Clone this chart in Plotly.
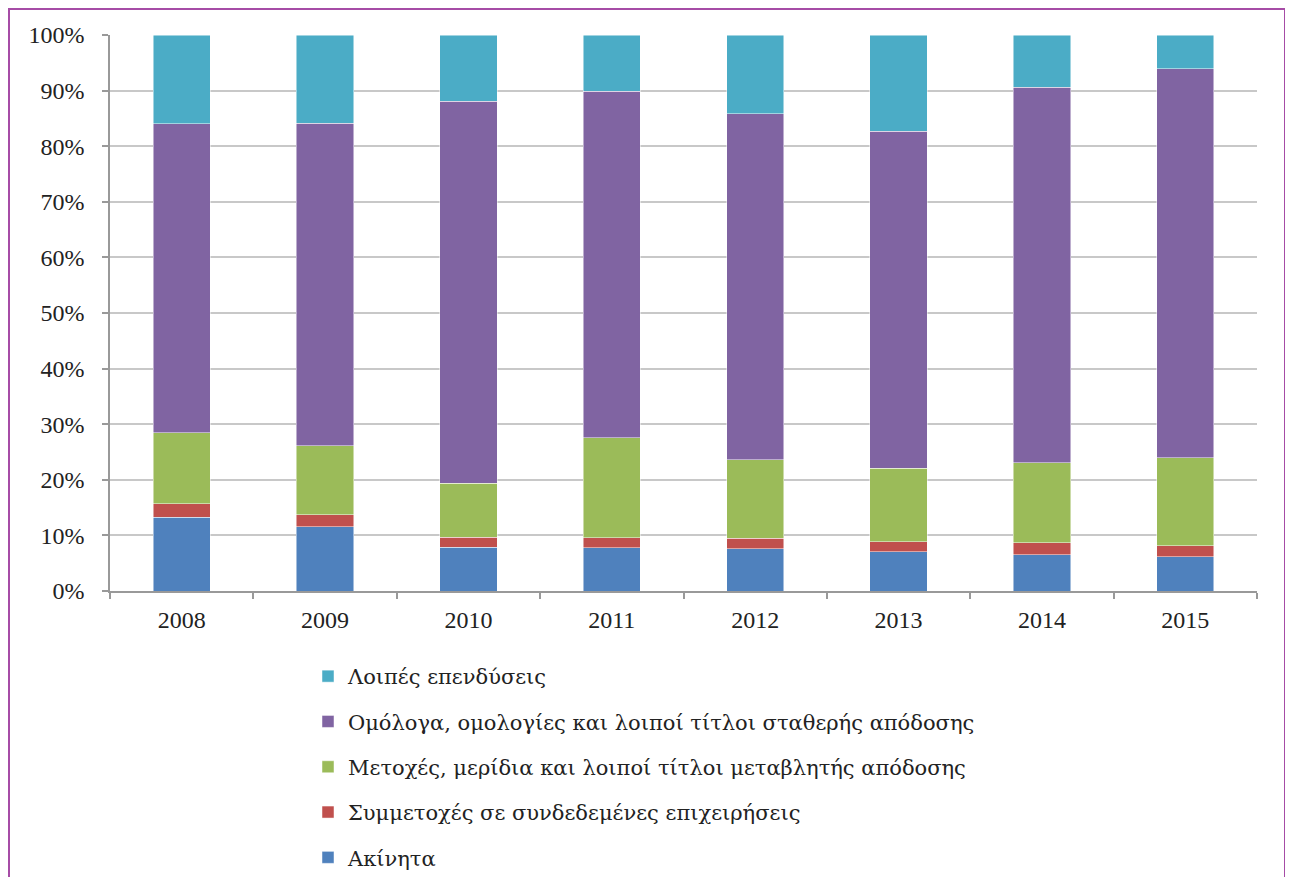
import plotly.graph_objects as go

years = ["2008", "2009", "2010", "2011", "2012", "2013", "2014", "2015"]
akinita = [13.25, 11.6, 7.9, 7.8, 7.6, 7.1, 6.5, 6.2]
symmetoxes = [2.4, 2.1, 1.8, 1.8, 1.9, 1.8, 2.2, 1.9]
metoxes = [12.85, 12.4, 9.7, 18.0, 14.1, 13.2, 14.4, 15.9]
omologa = [55.5, 58.0, 68.7, 62.3, 62.2, 60.6, 67.5, 69.9]
loipes = [16.0, 15.9, 11.9, 10.1, 14.2, 17.3, 9.4, 6.1]

series = [
    ("Ακίνητα", akinita, "#4F81BD"),
    ("Συμμετοχές σε συνδεδεμένες επιχειρήσεις", symmetoxes, "#C0504D"),
    ("Μετοχές, μερίδια και λοιποί τίτλοι μεταβλητής απόδοσης", metoxes, "#9BBB59"),
    ("Ομόλογα, ομολογίες και λοιποί τίτλοι σταθερής απόδοσης", omologa, "#8064A2"),
    ("Λοιπές επενδύσεις", loipes, "#4BACC6"),
]

fig = go.Figure()
n = len(series)
for i, (name, vals, col) in enumerate(series):
    fig.add_trace(go.Bar(
        x=years, y=vals, name=name, legendgroup=f"g{n - i}", legendrank=(n - i) * 10,
        marker=dict(color=col, line=dict(color="rgba(255,255,255,0.6)", width=0.8)),
    ))

OFF = 8  # page body margin
W, H = 1293 - OFF - 8, 885 - OFF - 8
L, T = 110 - OFF, 35 - OFF
pw, ph = 1147, 556
R = W - L - pw
B = H - T - ph
FONT = "Liberation Serif, Times New Roman, DejaVu Serif, serif"
GFONT = "DejaVu Serif, serif"

fig.update_layout(
    width=W, height=H,
    barmode="stack", bargap=0.6,
    plot_bgcolor="white", paper_bgcolor="white",
    margin=dict(l=L, r=R, t=T, b=B, autoexpand=False),
    font=dict(family=FONT, size=22, color="#222"),
    legend=dict(
        traceorder="grouped", orientation="v",
        x=(308 - 110) / pw, xanchor="left",
        y=(591 - 656) / ph, yanchor="top",
        tracegroupgap=15, font=dict(family=GFONT, size=21, color="#222"),
        itemwidth=30,
    ),
    showlegend=True,
)
fig.update_yaxes(
    range=[0, 100], tickvals=[0, 10, 20, 30, 40, 50, 60, 70, 80, 90, 100],
    ticktext=[f"{v}%" for v in range(0, 101, 10)],
    showgrid=True, gridcolor="#c8c8c8", gridwidth=1.5,
    showline=True, linecolor="#999", linewidth=1.5,
    ticks="outside", ticklen=6, tickcolor="#999", tickwidth=1.5,
    tickfont=dict(family=FONT, size=24), ticklabelstandoff=13, zeroline=False,
)
fig.update_xaxes(
    showline=True, linecolor="#999", linewidth=1.5,
    ticks="outside", ticklen=6, tickcolor="#999", tickwidth=1.5,
    tickson="boundaries", tickfont=dict(family=FONT, size=24), ticklabelstandoff=6,
)
fig.add_shape(
    type="rect", xref="paper", yref="paper",
    x0=(1 - L) / pw, x1=(1285 - OFF - L) / pw,
    y0=(T + ph - (H + 10)) / ph, y1=1 + (T - 1) / ph,
    line=dict(color="#A64CA6", width=2), fillcolor="rgba(0,0,0,0)", layer="below",
)
fig.write_html("out.html")
